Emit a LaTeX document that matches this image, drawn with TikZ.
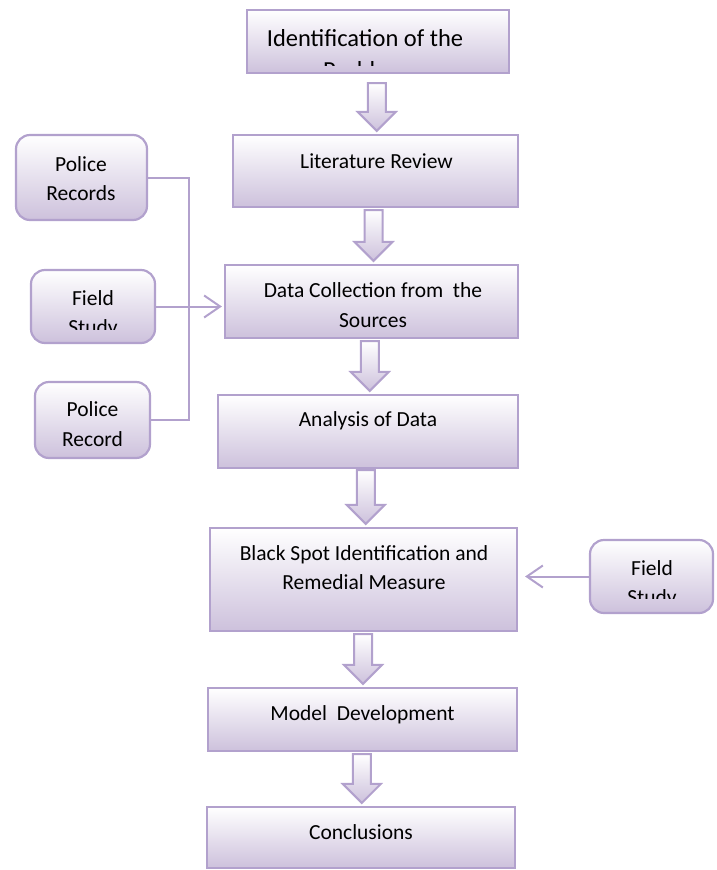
\documentclass[tikz,border=0pt]{standalone}
\usepackage{fontspec}
\setmainfont{Carlito}
\definecolor{flowline}{RGB}{178,161,205}
\definecolor{flowfill}{RGB}{205,193,220}
\usetikzlibrary{arrows.meta, positioning, calc}

% block arrow from the bottom of one stage to the top of the next
\newcommand{\flowdown}[3][2]{%
  \draw[flowarrow] let \p1=(#2.south), \p2=(#3.north), \p3=($(#2.south)!.5!(#3.north)$) in
    (\x3-9pt,\y1-#1pt) -- (\x3+9pt,\y1-#1pt) -- (\x3+9pt,\y2+22pt) -- (\x3+19pt,\y2+22pt)
    -- (\x3,\y2+3pt) -- (\x3-19pt,\y2+22pt) -- (\x3-9pt,\y2+22pt) -- cycle;}

\begin{document}
\begin{tikzpicture}[x=1pt, y=-1pt,
    stage/.style={draw=flowline, line width=2.2pt, top color=white, bottom color=flowfill},
    source/.style={stage, rounded corners=14pt},
    txt/.style={font=\fontsize{21.5}{29.5}\selectfont, align=center, inner sep=0pt, anchor=base},
    feed/.style={draw=flowline, line width=2pt},
    flowarrow/.style={draw=flowline, line width=2pt, top color=white, bottom color=flowfill, line join=miter}]

    \useasboundingbox (0,0) rectangle (717,870);

    % main column
    \node[stage, minimum width=262pt, minimum height=63pt] (prob) at (378,41.5) {};
    \node[stage, minimum width=285pt, minimum height=72pt] (lit) at (375.5,171) {};
    \node[stage, minimum width=293pt, minimum height=73pt] (data) at (371.5,301.5) {};
    \node[stage, minimum width=300pt, minimum height=73pt] (anal) at (368,431.5) {};
    \node[stage, minimum width=307pt, minimum height=103pt] (black) at (363.5,579.5) {};
    \node[stage, minimum width=309pt, minimum height=63pt] (model) at (362.5,719.5) {};
    \node[stage, minimum width=308pt, minimum height=61pt] (concl) at (361,837.5) {};

    % sources
    \node[source, minimum width=131pt, minimum height=85pt] (polA) at (81.5,177.5) {};
    \node[source, minimum width=124pt, minimum height=73pt] (fieldA) at (93,306.5) {};
    \node[source, minimum width=115pt, minimum height=76pt] (polB) at (92.5,420) {};
    \node[source, minimum width=123pt, minimum height=73pt] (fieldB) at (651.5,576.5) {};

    % texts (base = last line)
    \begin{scope}
        \clip (249,12) rectangle (507,65);
        \node[txt, font=\fontsize{24.5}{32}\selectfont] (probT) at (365,78) {Identification of the\\Problem};
    \end{scope}
    \node[txt] (litT) at (376.5,168) {Literature Review};
    \node[txt] (dataT) at (373,327) {Data Collection from\ \ the\\Sources};
    \node[txt] (analT) at (368,426.5) {Analysis of Data};
    \node[txt] (blackT) at (364,589.5) {Black Spot Identification and\\Remedial Measure};
    \node[txt] (modelT) at (362.5,720) {Model\ \ Development};
    \node[txt] (conclT) at (361,839) {Conclusions};
    \node[txt] (polAT) at (81,200.5) {Police\\Records};
    \begin{scope}
        \clip (33,272) rectangle (153,329);
        \node[txt] (fieldAT) at (93,334.5) {Field\\Study};
    \end{scope}
    \begin{scope}
        \clip (37,384) rectangle (148,447);
        \node[txt] (polBT) at (92.5,446.2) {Police\\Record};
    \end{scope}
    \begin{scope}
        \clip (592,542) rectangle (711,598);
        \node[txt] (fieldBT) at (652,604.5) {Field\\Study};
    \end{scope}

    % block arrows
    \flowdown[9]{prob}{lit}
    \flowdown{lit}{data}
    \flowdown{data}{anal}
    \flowdown[1]{anal}{black}
    \flowdown{black}{model}
    \flowdown{model}{concl}

    % inputs
    \coordinate (busT) at ($(polA.east)+(41,0)$);
    \coordinate (busB) at (busT |- polB.east);
    \draw[feed] (polA.east) -- (busT) -- (busB) -- (polB.east);
    \draw[feed, -{Straight Barb[length=16pt, width=22pt]}, shorten >=2pt] (fieldA.east) -- (fieldA.east -| data.west);
    \draw[feed, -{Straight Barb[length=16pt, width=22pt]}, shorten >=7pt] (fieldB.west) -- (fieldB.west -| black.east);
\end{tikzpicture}
\end{document}
